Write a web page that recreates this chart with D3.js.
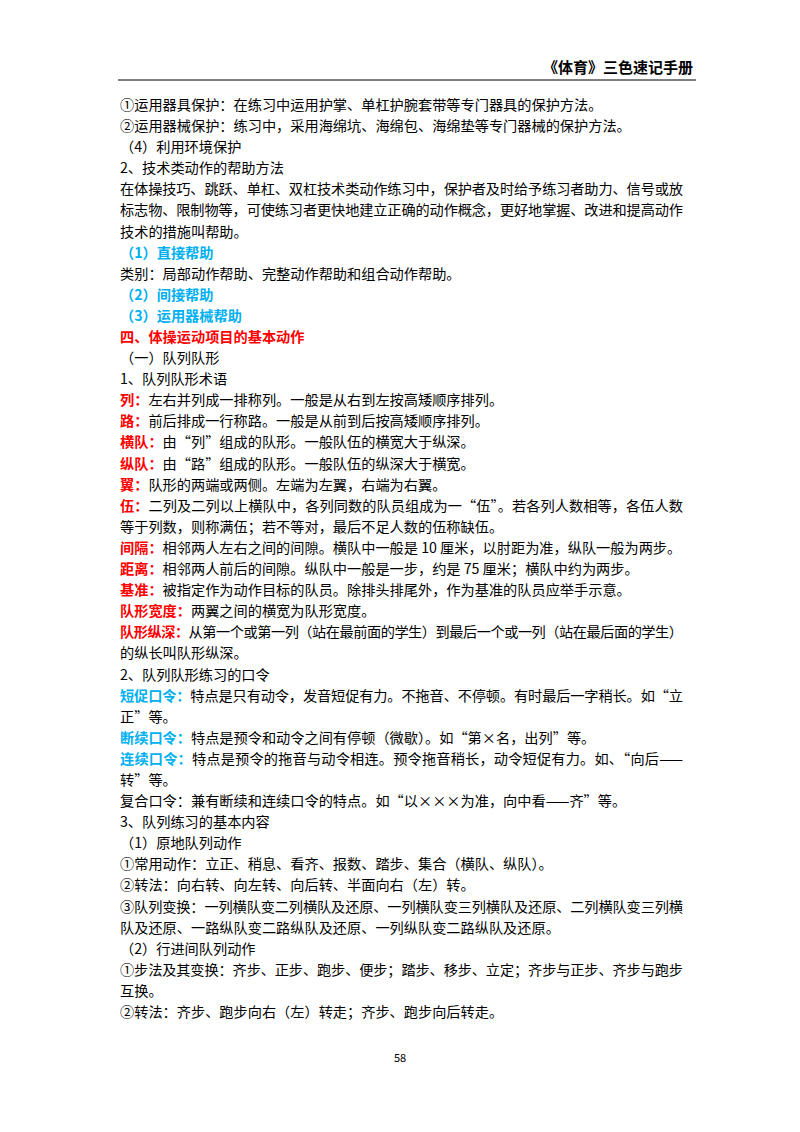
<!DOCTYPE html>
<html>
<head>
  <meta charset="utf-8">
  <style>
    body { margin: 0; background: #fff; }
    text { font-family: "Noto Sans CJK SC", sans-serif; }
  </style>
</head>
<body>
  <div id="page"></div>
  <script src="https://d3js.org/d3.v7.min.js"></script>
  <script>
    // n = normal, r = red bold, b = blue bold; j = justified full line
    let headerText = '《体育》三色速记手册';
    let pageNumber = '58';
    let lines = [
      {s: [['n', '①运用器具保护：在练习中运用护掌、单杠护腕套带等专门器具的保护方法。']]},
      {s: [['n', '②运用器械保护：练习中，采用海绵坑、海绵包、海绵垫等专门器械的保护方法。']]},
      {s: [['n', '（4）利用环境保护']]},
      {s: [['n', '2、技术类动作的帮助方法']]},
      {j: 1, s: [['n', '在体操技巧、跳跃、单杠、双杠技术类动作练习中，保护者及时给予练习者助力、信号或放']]},
      {j: 1, s: [['n', '标志物、限制物等，可使练习者更快地建立正确的动作概念，更好地掌握、改进和提高动作']]},
      {s: [['n', '技术的措施叫帮助。']]},
      {s: [['b', '（1）直接帮助']]},
      {s: [['n', '类别：局部动作帮助、完整动作帮助和组合动作帮助。']]},
      {s: [['b', '（2）间接帮助']]},
      {s: [['b', '（3）运用器械帮助']]},
      {s: [['r', '四、体操运动项目的基本动作']]},
      {s: [['n', '（一）队列队形']]},
      {s: [['n', '1、队列队形术语']]},
      {s: [['r', '列：'], ['n', '左右并列成一排称列。一般是从右到左按高矮顺序排列。']]},
      {s: [['r', '路：'], ['n', '前后排成一行称路。一般是从前到后按高矮顺序排列。']]},
      {s: [['r', '横队：'], ['n', '由“列”组成的队形。一般队伍的横宽大于纵深。']]},
      {s: [['r', '纵队：'], ['n', '由“路”组成的队形。一般队伍的纵深大于横宽。']]},
      {s: [['r', '翼：'], ['n', '队形的两端或两侧。左端为左翼，右端为右翼。']]},
      {j: 1, s: [['r', '伍：'], ['n', '二列及二列以上横队中，各列同数的队员组成为一“伍”。若各列人数相等，各伍人数']]},
      {s: [['n', '等于列数，则称满伍；若不等对，最后不足人数的伍称缺伍。']]},
      {s: [['r', '间隔：'], ['n', '相邻两人左右之间的间隙。横队中一般是 10 厘米，以肘距为准，纵队一般为两步。']]},
      {s: [['r', '距离：'], ['n', '相邻两人前后的间隙。纵队中一般是一步，约是 75 厘米；横队中约为两步。']]},
      {s: [['r', '基准：'], ['n', '被指定作为动作目标的队员。除排头排尾外，作为基准的队员应举手示意。']]},
      {s: [['r', '队形宽度：'], ['n', '两翼之间的横宽为队形宽度。']]},
      {j: 1, s: [['r', '队形纵深：'], ['n', '从第一个或第一列（站在最前面的学生）到最后一个或一列（站在最后面的学生）']]},
      {s: [['n', '的纵长叫队形纵深。']]},
      {s: [['n', '2、队列队形练习的口令']]},
      {j: 1, s: [['b', '短促口令：'], ['n', '特点是只有动令，发音短促有力。不拖音、不停顿。有时最后一字稍长。如“立']]},
      {s: [['n', '正”等。']]},
      {s: [['b', '断续口令：'], ['n', '特点是预令和动令之间有停顿（微歇）。如“第×名，出列”等。']]},
      {j: 1, s: [['b', '连续口令：'], ['n', '特点是预令的拖音与动令相连。预令拖音稍长，动令短促有力。如、“向后——']]},
      {s: [['n', '转”等。']]},
      {s: [['n', '复合口令：兼有断续和连续口令的特点。如“以×××为准，向中看——齐”等。']]},
      {s: [['n', '3、队列练习的基本内容']]},
      {s: [['n', '（1）原地队列动作']]},
      {s: [['n', '①常用动作：立正、稍息、看齐、报数、踏步、集合（横队、纵队）。']]},
      {s: [['n', '②转法：向右转、向左转、向后转、半面向右（左）转。']]},
      {j: 1, s: [['n', '③队列变换：一列横队变二列横队及还原、一列横队变三列横队及还原、二列横队变三列横']]},
      {s: [['n', '队及还原、一路纵队变二路纵队及还原、一列纵队变二路纵队及还原。']]},
      {s: [['n', '（2）行进间队列动作']]},
      {j: 1, s: [['n', '①步法及其变换：齐步、正步、跑步、便步；踏步、移步、立定；齐步与正步、齐步与跑步']]},
      {s: [['n', '互换。']]},
      {s: [['n', '②转法：齐步、跑步向右（左）转走；齐步、跑步向后转走。']]}
    ];

    let W = 800, H = 1132;
    let left = 120, right = 683;
    let colors = {n: '#000', r: '#ff0000', b: '#00b0f0'};

    let svg = d3.select('#page').append('svg')
      .attr('width', W).attr('height', H);

    let y = d3.scaleLinear()
      .domain([0, lines.length - 1])
      .range([110, 1017]);

    svg.append('text')
      .attr('x', 693).attr('y', 73)
      .attr('text-anchor', 'end')
      .attr('font-size', 15).attr('font-weight', 'bold')
      .text(headerText);

    svg.append('line')
      .attr('x1', 118).attr('x2', 696)
      .attr('y1', 80).attr('y2', 80)
      .attr('stroke', '#000').attr('stroke-width', 1);

    let rows = svg.selectAll('text.row')
      .data(lines)
      .enter()
      .append('text')
      .attr('class', 'row')
      .attr('x', left)
      .attr('y', (d, i) => y(i))
      .attr('font-size', 14.2)
      .each(function(d) {
        if (d.j) d3.select(this).attr('textLength', right - left).attr('lengthAdjust', 'spacing');
      });

    rows.selectAll('tspan')
      .data(d => d.s)
      .enter()
      .append('tspan')
      .attr('fill', d => colors[d[0]])
      .attr('font-weight', d => d[0] === 'n' ? 'normal' : 'bold')
      .text(d => d[1]);

    svg.append('text')
      .attr('x', 400).attr('y', 1062)
      .attr('text-anchor', 'middle')
      .attr('font-size', 11)
      .text(pageNumber);
  </script>
</body>
</html>
